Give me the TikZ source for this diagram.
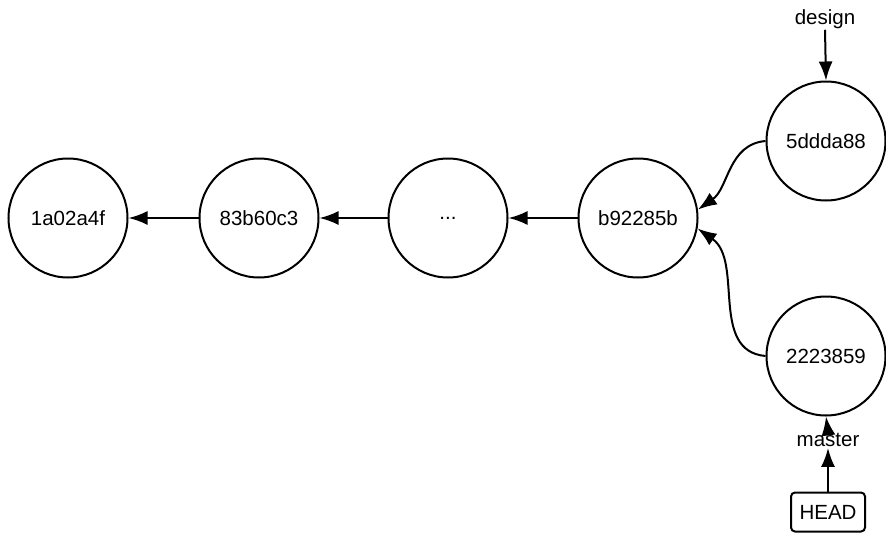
\documentclass[tikz,border=0pt]{standalone}
\usepackage{fontspec}
\setmainfont{Liberation Sans}
\usetikzlibrary{arrows.meta}
\begin{document}
\begin{tikzpicture}[x=1pt,y=-1pt,
  commit/.style={circle,draw,line width=2pt,minimum size=119pt,inner sep=0pt,font=\fontsize{20.5}{24}\selectfont},
  lbl/.style={inner sep=1pt,font=\fontsize{20.5}{24}\selectfont},
  headbox/.style={draw,rounded corners=4pt,line width=2pt,minimum width=74pt,minimum height=39pt,inner sep=2pt,font=\fontsize{20.5}{24}\selectfont},
  link/.style={line width=2pt,-{Latex[length=19pt,width=14pt]}}]
\useasboundingbox (0,0) rectangle (886,533);
\node[commit] (c1) at (68,218) {1a02a4f};
\node[commit] (c2) at (259,218) {83b60c3};
\node[commit] (c3) at (448,218) {...};
\node[commit] (c4) at (638,218) {b92285b};
\node[commit] (c5) at (826,141) {5ddda88};
\node[commit] (c6) at (826,356) {2223859};
\node[lbl] (design) at (825,19) {design};
\node[lbl] (master) at (828,440) {master};
\node[headbox] (head) at (828,512) {HEAD};
\draw[link] (c2) -- (c1);
\draw[link] (c3) -- (c2);
\draw[link] (c4) -- (c3);
\draw[link] (c5.west) to[out=185,in=35] (c4.8);
\draw[link] (c6.west) to[out=175,in=-35] (c4.-10);
\draw[link] (design.south) -- (c5.north);
\draw[link] (master.north) -- (c6.south);
\draw[link] (head.north) -- (master.south);
\end{tikzpicture}
\end{document}
